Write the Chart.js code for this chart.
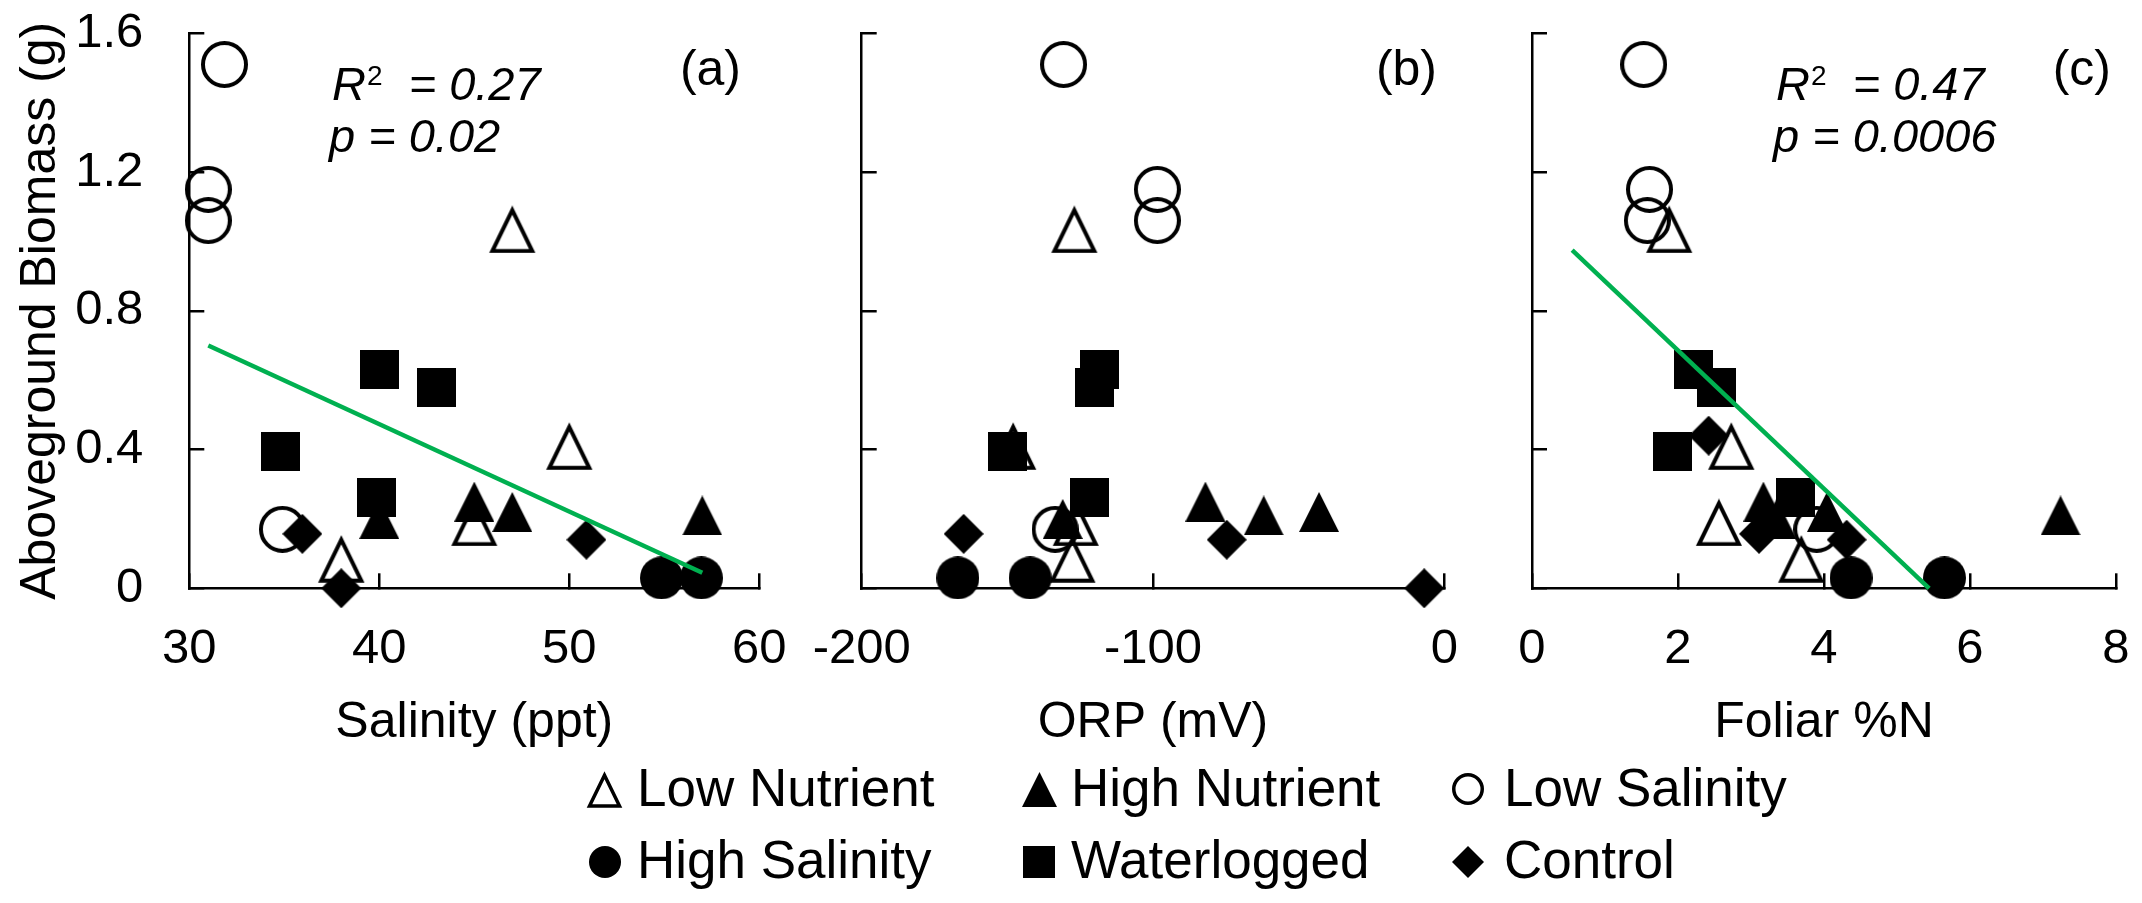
<!DOCTYPE html>
<html>
<head>
<meta charset="utf-8">
<title>Aboveground biomass vs salinity, ORP and foliar N</title>
<script src="https://cdn.jsdelivr.net/npm/chart.js@4.4.1/dist/chart.umd.min.js"></script>
<style>
  html, body { margin: 0; padding: 0; background: #fff; }
  body { position: relative; width: 2142px; height: 903px; overflow: hidden;
         font-family: 'Liberation Sans', Arial, Helvetica, sans-serif; color: #000; }
  canvas.panel { position: absolute; top: 0; }
  .key { position: absolute; font-size: 53px; line-height: 53px; white-space: nowrap; }
  .keymark { position: absolute; }
</style>
</head>
<body>
<canvas id="panelA" class="panel" width="790" height="760" style="left:0px"></canvas>
<canvas id="panelB" class="panel" width="700" height="760" style="left:790px"></canvas>
<canvas id="panelC" class="panel" width="652" height="760" style="left:1490px"></canvas>
<div id="legend"></div>
<script>
// Treatments, in legend order
const treatments = ['Low Nutrient', 'High Nutrient', 'Low Salinity', 'High Salinity', 'Waterlogged', 'Control'];

// Aboveground biomass (g) for each plant
const biomassLowNutrient  = [1.035, 0.41, 0.19, 0.085];
const biomassHighNutrient = [0.20, 0.25, 0.22, 0.21];
const biomassLowSalinity  = [1.51, 1.15, 1.06, 0.17];
const biomassHighSalinity = [0.03, 0.03];
const biomassWaterlogged  = [0.63, 0.58, 0.395, 0.262];
const biomassControl      = [0.44, 0.157, 0.14, 0.0];

// Salinity (ppt) of the same plants (null = not shown in that panel)
const salinityLowNutrient  = [47, 50, 45, 38];
const salinityHighNutrient = [40, 45, 47, 57];
const salinityLowSalinity  = [31.85, 31.0, 31.0, 34.9];
const salinityHighSalinity = [54.85, 56.95];
const salinityWaterlogged  = [40, 43, 34.8, 39.85];
const salinityControl      = [null, 35.95, 50.9, 38.0];

// ORP (mV)
const orpLowNutrient  = [-127, -148, -126.5, -127.7];
const orpHighNutrient = [-131, -82, -43, -62];
const orpLowSalinity  = [-130.7, -98.5, -98.5, -133.6];
const orpHighSalinity = [-167, -142.2];
const orpWaterlogged  = [-118.2, -120, -149.8, -121.7];
const orpControl      = [null, -165, -74.7, -6.9];

// Foliar %N
const foliarLowNutrient  = [1.88, 2.73, 2.56, 3.69];
const foliarHighNutrient = [3.35, 3.17, 4.04, 7.24];
const foliarLowSalinity  = [1.53, 1.61, 1.58, 3.9];
const foliarHighSalinity = [4.37, 5.65];
const foliarWaterlogged  = [2.21, 2.53, 1.92, 3.61];
const foliarControl      = [2.42, 3.11, 4.31, null];

// Regression lines (end points)
const salinityFitX = [31, 57];
const salinityFitY = [0.70, 0.045];
const foliarFitX = [0.55, 5.44];
const foliarFitY = [0.975, 0.0];

// Axis ticks
const biomassTicks  = [0, 0.4, 0.8, 1.2, 1.6];
const salinityTicks = [30, 40, 50, 60];
const orpTicks      = [-200, -100, 0];
const foliarTicks   = [0, 2, 4, 6, 8];

const FONT = "'Liberation Sans', Arial, Helvetica, sans-serif";
const GREEN = '#00b050';

Chart.defaults.font.family = FONT;
Chart.defaults.color = '#000';

// Excel-like marker shapes, drawn once into small canvases
function makeMarker(kind, size, lw) {
  var c = document.createElement('canvas');
  c.width = size;
  c.height = size;
  var g = c.getContext('2d');
  var s = size;
  g.fillStyle = '#000';
  g.strokeStyle = '#000';
  g.lineWidth = lw || 0;
  g.lineJoin = 'miter';
  g.beginPath();
  if (kind === 'triangleOpen') {
    g.moveTo(s / 2, lw * 1.2);
    g.lineTo(s - lw, s - lw * 0.55);
    g.lineTo(lw, s - lw * 0.55);
    g.closePath();
    g.stroke();
  } else if (kind === 'triangle') {
    g.moveTo(s / 2, 0);
    g.lineTo(s, s);
    g.lineTo(0, s);
    g.closePath();
    g.fill();
  } else if (kind === 'circleOpen') {
    g.arc(s / 2, s / 2, s / 2 - lw / 2, 0, Math.PI * 2);
    g.stroke();
  } else if (kind === 'circle') {
    g.arc(s / 2, s / 2, s / 2, 0, Math.PI * 2);
    g.fill();
  } else if (kind === 'square') {
    g.rect(0, 0, s, s);
    g.fill();
  } else if (kind === 'diamond') {
    g.moveTo(s / 2, 0);
    g.lineTo(s, s / 2);
    g.lineTo(s / 2, s);
    g.lineTo(0, s / 2);
    g.closePath();
    g.fill();
  }
  return c;
}

var plotMarkers = [
  makeMarker('triangleOpen', 48, 4),
  makeMarker('triangle', 40),
  makeMarker('circleOpen', 47, 4),
  makeMarker('circle', 43),
  makeMarker('square', 39),
  makeMarker('diamond', 40)
];
var keyMarkers = [
  makeMarker('triangleOpen', 37, 3.5),
  makeMarker('triangle', 35),
  makeMarker('circleOpen', 32, 3.5),
  makeMarker('circle', 32),
  makeMarker('square', 32),
  makeMarker('diamond', 32)
];

var biomassSets  = [biomassLowNutrient, biomassHighNutrient, biomassLowSalinity, biomassHighSalinity, biomassWaterlogged, biomassControl];
var salinitySets = [salinityLowNutrient, salinityHighNutrient, salinityLowSalinity, salinityHighSalinity, salinityWaterlogged, salinityControl];
var orpSets      = [orpLowNutrient, orpHighNutrient, orpLowSalinity, orpHighSalinity, orpWaterlogged, orpControl];
var foliarSets   = [foliarLowNutrient, foliarHighNutrient, foliarLowSalinity, foliarHighSalinity, foliarWaterlogged, foliarControl];

function points(xs, ys) {
  var out = [];
  for (var i = 0; i < xs.length; i++) {
    if (xs[i] === null) continue;
    out.push({ x: xs[i], y: ys[i] });
  }
  return out;
}

// Panel letter and regression statistics
const panelText = {
  id: 'panelText',
  afterDraw(chart, args, opts) {
    var ctx = chart.ctx;
    ctx.save();
    ctx.fillStyle = '#000';
    ctx.textBaseline = 'alphabetic';
    ctx.textAlign = 'right';
    ctx.font = '50px ' + FONT;
    ctx.fillText(opts.tag, opts.tagX, 85);
    if (opts.r2) {
      ctx.textAlign = 'left';
      var x = opts.statX;
      ctx.font = 'italic 47px ' + FONT;
      ctx.fillText('R', x, 100);
      x += ctx.measureText('R').width + 1;
      ctx.font = '28px ' + FONT;
      ctx.fillText('2', x, 85);
      x += ctx.measureText('2').width;
      ctx.font = 'italic 47px ' + FONT;
      ctx.fillText('  = ' + opts.r2, x, 100);
      ctx.fillText('p = ' + opts.p, opts.statX - 3, 152);
    }
    ctx.restore();
  }
};

function tickScale(ticks, extra) {
  var s = {
    type: 'linear',
    min: ticks[0],
    max: ticks[ticks.length - 1],
    afterBuildTicks: function (scale) {
      scale.ticks = ticks.map(function (v) { return { value: v }; });
    },
    grid: { drawOnChartArea: false, drawTicks: true, tickLength: -15, color: '#000', lineWidth: 2.5 },
    border: { display: true, color: '#000', width: 2.5 },
    ticks: { font: { size: 49 }, callback: function (v) { return String(v); } }
  };
  return Object.assign(s, extra);
}

// the plot area is set by the layout padding, not by the label overhang
function clearPadding(scale) {
  scale.paddingTop = 0;
  scale.paddingBottom = 0;
  scale.paddingLeft = 0;
  scale.paddingRight = 0;
}

function makePanel(id, cfg) {
  var datasets = [];
  if (cfg.fitX) {
    datasets.push({
      label: 'fit',
      data: points(cfg.fitX, cfg.fitY),
      showLine: true,
      borderColor: GREEN,
      borderWidth: 4.5,
      pointRadius: 0,
      order: 0,
      clip: false
    });
  }
  for (var i = 0; i < treatments.length; i++) {
    datasets.push({
      label: treatments[i],
      data: points(cfg.xs[i], biomassSets[i]),
      pointStyle: plotMarkers[i],
      pointRadius: 22,
      pointHoverRadius: 22,
      order: treatments.length - i,
      clip: false
    });
  }

  var xScale = tickScale(cfg.xTicks, {
    position: 'bottom',
    afterFit: function (scale) { scale.height = 171.7; clearPadding(scale); },
    title: { display: true, text: cfg.xTitle, font: { size: 50 }, padding: { top: 0, bottom: 7 } }
  });
  xScale.ticks.padding = 47;

  var yScale = tickScale(biomassTicks, {
    position: 'left',
    afterFit: function (scale) { scale.width = cfg.yWidth; clearPadding(scale); },
    title: { display: !!cfg.yTitle, text: cfg.yTitle || '', font: { size: 50 }, padding: { top: 11, bottom: 0 } }
  });
  yScale.ticks.padding = 61;
  yScale.ticks.display = !!cfg.yTitle;

  return new Chart(document.getElementById(id), {
    type: 'scatter',
    data: { datasets: datasets },
    options: {
      responsive: false,
      animation: false,
      devicePixelRatio: 1,
      events: [],
      layout: { padding: { left: 0, right: cfg.padRight, top: 33.3, bottom: 0 } },
      scales: { x: xScale, y: yScale },
      plugins: {
        legend: { display: false },
        tooltip: { enabled: false },
        panelText: cfg.text
      }
    },
    plugins: [panelText]
  });
}

makePanel('panelA', {
  xs: salinitySets, xTicks: salinityTicks, xTitle: 'Salinity (ppt)',
  yTitle: 'Aboveground Biomass (g)', yWidth: 189.3, padRight: 30.7,
  fitX: salinityFitX, fitY: salinityFitY,
  text: { tag: '(a)', tagX: 741, r2: '0.27', p: '0.02', statX: 332 }
});
makePanel('panelB', {
  xs: orpSets, xTicks: orpTicks, xTitle: 'ORP (mV)',
  yWidth: 71.7, padRight: 45.7,
  text: { tag: '(b)', tagX: 647 }
});
makePanel('panelC', {
  xs: foliarSets, xTicks: foliarTicks, xTitle: 'Foliar %N',
  yWidth: 42, padRight: 26,
  fitX: foliarFitX, fitY: foliarFitY,
  text: { tag: '(c)', tagX: 621, r2: '0.47', p: '0.0006', statX: 286 }
});

// Legend: two rows of three, below the panels
var keyMarkerMid = [604.5, 1039, 1468];
var keyTextLeft = [637, 1071, 1504];
var keyBaseline = [806, 878];
var keyMid = [789, 862];
var legend = document.getElementById('legend');
for (var k = 0; k < treatments.length; k++) {
  var row = Math.floor(k / 3), col = k % 3;
  var m = keyMarkers[k];
  m.className = 'keymark';
  m.style.left = (keyMarkerMid[col] - m.width / 2) + 'px';
  m.style.top = (keyMid[row] - m.height / 2) + 'px';
  legend.appendChild(m);
  var t = document.createElement('div');
  t.className = 'key';
  t.textContent = treatments[k];
  t.style.left = keyTextLeft[col] + 'px';
  t.style.top = (keyBaseline[row] - 44.9) + 'px';
  legend.appendChild(t);
}
</script>
</body>
</html>
